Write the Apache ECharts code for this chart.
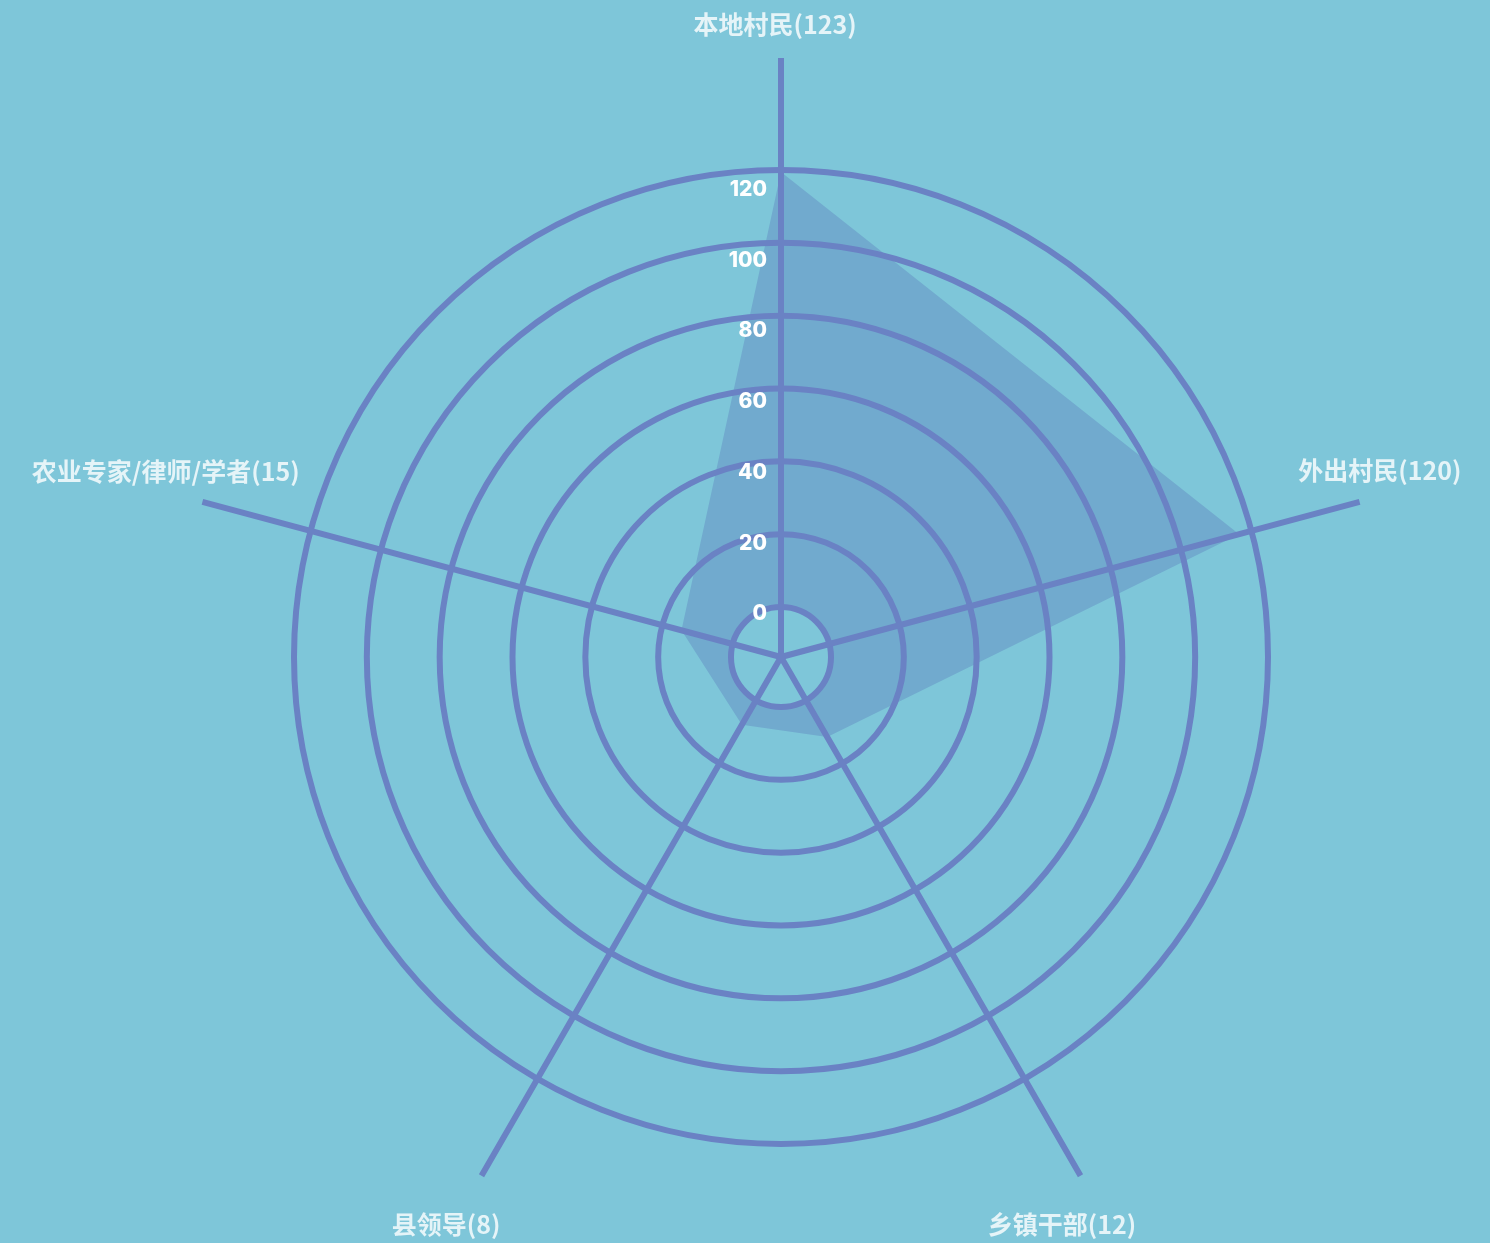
<!DOCTYPE html>
<html>
<head>
<meta charset="utf-8">
<script src="https://cdn.jsdelivr.net/npm/echarts@6/dist/echarts.min.js"></script>
<style>
  html, body { margin: 0; padding: 0; background: #7EC6D9; }
  #chart { width: 1490px; height: 1243px; }
</style>
</head>
<body>
<div id="chart"></div>
<script>
// Respondent groups and how many people were heard in each
const categories = ['本地村民', '外出村民', '乡镇干部', '县领导', '农业专家/律师/学者'];
const counts = [123, 120, 12, 8, 15];
// Clockwise direction of each spoke, in degrees from twelve o'clock
const spokeAngles = [0, 75, 150, 210, 285];
// Values printed along the vertical spoke
const scaleTicks = [0, 20, 40, 60, 80, 100, 120];

const LINE = '#6A82C4';
const FILL = '#71AACE';
const CENTER = [781, 657];
const INNER = 50, OUTER = 487, SPOKE = 599;
const RMAX = 123.6;
// value that lands exactly on the centre point (used as the area base)
const centreValue = -INNER / (OUTER - INNER) * RMAX;

// where each group name sits: distance along its spoke plus a nudge
const nameLayout = [
  { r: 633, offset: [-6, 0] },
  { r: 620, offset: [0, -26] },
  { r: 656, offset: [-47, -1] },
  { r: 656, offset: [-7, -1] },
  { r: 637, offset: [0, -21] }
];

const polygon = categories.map((c, i) => [counts[i], spokeAngles[i]]);
polygon.push([counts[0], 360]);

const chart = echarts.init(document.getElementById('chart'));
chart.setOption({
  backgroundColor: '#7EC6D9',
  animation: false,
  polar: [
    { center: CENTER, radius: [INNER, OUTER] },
    { center: CENTER, radius: [0, SPOKE] }
  ],
  angleAxis: [
    { polarIndex: 0, type: 'value', min: 0, max: 360, startAngle: 90, clockwise: true, show: false },
    {
      polarIndex: 1, type: 'value', min: 0, max: 360, startAngle: 90, clockwise: true, z: 3,
      axisLine: { show: false },
      axisTick: { show: false, customValues: spokeAngles },
      axisLabel: { show: false },
      splitLine: { show: true, lineStyle: { color: LINE, width: 6 } }
    }
  ],
  radiusAxis: [
    {
      polarIndex: 0, type: 'value', min: 0, max: RMAX, interval: RMAX / 6, z: 3,
      axisLine: { show: false },
      axisTick: { show: false },
      axisLabel: {
        customValues: scaleTicks,
        margin: 14,
        formatter: '{v|{value}}',
        rich: {
          v: {
            color: '#ffffff', fontSize: 21, fontWeight: 800, fontFamily: 'Inter',
            padding: [14, 0, 0, 0]
          }
        }
      },
      splitLine: { show: true, lineStyle: { color: LINE, width: 6 } }
    },
    { polarIndex: 1, type: 'value', min: 0, max: SPOKE, show: false }
  ],
  series: [
    {
      type: 'line', coordinateSystem: 'polar', polarIndex: 0, z: 1,
      clip: false, silent: true, symbol: 'none',
      lineStyle: { width: 0, opacity: 0 },
      areaStyle: { color: FILL, opacity: 1, origin: centreValue },
      data: polygon
    },
    {
      type: 'scatter', coordinateSystem: 'polar', polarIndex: 1, z: 4,
      clip: false, silent: true, symbolSize: 1,
      itemStyle: { color: 'rgba(0,0,0,0)' },
      label: {
        show: true, position: 'inside', color: '#ffffff',
        fontSize: 25, fontWeight: 'bold', fontFamily: 'Noto Sans CJK SC',
        formatter: p => categories[p.dataIndex] + '(' + counts[p.dataIndex] + ')'
      },
      data: categories.map((c, i) => ({
        value: [nameLayout[i].r, spokeAngles[i]],
        label: { offset: nameLayout[i].offset }
      }))
    }
  ]
});
</script>
</body>
</html>
